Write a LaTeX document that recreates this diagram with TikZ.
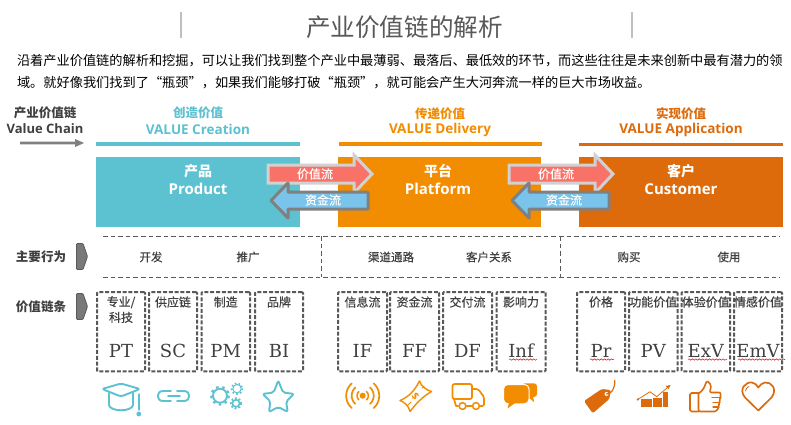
\documentclass[tikz,border=0pt]{standalone}
\usepackage{fontspec}
\setmainfont{Noto Sans CJK SC}
\newfontfamily\midface[FakeBold=0.3]{Noto Sans CJK SC}
\newfontfamily\latinface{Open Sans}
\newfontfamily\slabface{DejaVu Serif}
\usetikzlibrary{decorations.pathmorphing,calc}
\definecolor{teal}{HTML}{5CC1D1}
\definecolor{amber}{HTML}{F28C00}
\definecolor{rust}{HTML}{DD6B0C}
\definecolor{inkgray}{HTML}{404040}
\definecolor{dashgray}{HTML}{595959}
\definecolor{flowred}{HTML}{F87268}
\definecolor{flowblue}{HTML}{7AC4EC}
\newcommand{\px}[1]{\fontsize{#1}{#1}\selectfont}
\tikzset{
  x=1pt,y=-1pt,
  txt/.style={inner sep=0pt,outer sep=0pt,align=center},
  body/.style={txt,anchor=west,text=black,font=\px{13.2}},
  rowlabel/.style={txt,text=inkgray,font=\px{12.5}\bfseries},
  action/.style={txt,text=inkgray,font=\midface\px{11.5}},
  cellname/.style={txt,text=inkgray,font=\midface\px{12}},
  code/.style={txt,text=inkgray,font=\slabface\px{18}},
  secname/.style={txt,font=\px{12.5}\bfseries},
  secen/.style={txt,font=\latinface\bfseries\px{13.5}},
  stagecn/.style={txt,text=white,font=\px{14}\bfseries},
  stageen/.style={txt,text=white,font=\latinface\bfseries\px{15}},
  flowtext/.style={txt,text=white,font=\midface\px{12}},
  cellbox/.style={draw=dashgray,line width=2pt,dash pattern=on 4pt off 1.8pt,rounded corners=1pt},
  divider/.style={draw=dashgray,line width=.8pt,dash pattern=on 4.6pt off 3pt},
  chevron/.style={fill=gray!95!black,draw=dashgray,line width=.8pt,rounded corners=1pt},
  squiggle/.style={draw=red!85!black,line width=.5pt,decorate,decoration={snake,amplitude=.7pt,segment length=3.4pt}},
  icon/.style={line width=1.9pt,line cap=round,line join=round},
}
% one value-flow / cash-flow arrow pair, shifted horizontally by #1
\newcommand{\flowpair}[2]{%
  \begin{scope}[xshift=#1pt]
    \path[fill=flowred,draw=black!18,line width=3pt,line join=miter]
      (268,165) -- (354,165) -- (354,155) -- (372,174) -- (354,193) -- (354,183) -- (268,183) -- cycle;
    \path[fill=flowblue,draw=gray,line width=3pt,line join=round]
      (271,200.5) -- (288,183) -- (288,192) -- (368,192) -- (368,209) -- (288,209) -- (288,218) -- cycle;
    \node[flowtext] (valueflow#2) at (315,174) {价值流};
    \node[flowtext] (cashflow#2) at (323,200) {资金流};
  \end{scope}}
% a dashed cell with its name and its code
\newcommand{\cell}[5]{%
  \node[cellbox,minimum width=#3pt-2pt,minimum height=79.4pt,inner sep=0pt,anchor=north west] (box#1) at (#2,291) {};
  \node[cellname] (name#1) at ($(#2,302)+(#3/2,0)$) {#4};
  \node[code] (code#1) at ($(#2,351)+(#3/2,0)$) {#5};}
\begin{document}
\begin{tikzpicture}
\useasboundingbox (0,0) rectangle (791,424);
\fill[white] (0,0) rectangle (791,424);

% heading
\draw[black!25,line width=1.6pt] (181,12) -- (181,38);
\draw[black!25,line width=1.6pt] (632,12) -- (632,38);
\node[txt,text=dashgray,font=\px{24.6}] (title) at (404.5,27) {产业价值链的解析};
\node[body] (line1) at (17,61) {沿着产业价值链的解析和挖掘，可以让我们找到整个产业中最薄弱、最落后、最低效的环节，而这些往往是未来创新中最有潜力的领};
\node[body] (line2) at (17,83) {域。就好像我们找到了“瓶颈”，如果我们能够打破“瓶颈”，就可能会产生大河奔流一样的巨大市场收益。};

% chain label and its arrow
\node[secname,text=inkgray] (vccn) at (45,113) {产业价值链};
\node[secen,text=inkgray,font=\latinface\bfseries\px{13}] (vcen) at (45,129) {Value Chain};
\fill[gray] (20,141.6) -- (75,141.6) -- (75,139) -- (84,143) -- (75,147) -- (75,144.4) -- (20,144.4) -- cycle;

% the three stages
\fill[teal] (96,142) rectangle (300,146);
\fill[amber] (339,142) rectangle (542,146);
\fill[rust] (579,143) rectangle (783,146);
\node[secname,text=teal] (s1cn) at (198,113) {创造价值};
\node[secen,text=teal] (s1en) at (198,129) {VALUE Creation};
\node[secname,text=amber] (s2cn) at (440,114) {传递价值};
\node[secen,text=amber] (s2en) at (440,130) {VALUE Delivery};
\node[secname,text=rust] (s3cn) at (681,114) {实现价值};
\node[secen,text=rust] (s3en) at (681,130) {VALUE Application};

\fill[teal] (96,157) rectangle (300,227);
\fill[amber] (338,157) rectangle (541,227);
\fill[rust] (579,157) rectangle (783,227);
\node[stagecn] (p1cn) at (198,171) {产品};
\node[stageen] (p1en) at (198,189) {Product};
\node[stagecn] (p2cn) at (438,171) {平台};
\node[stageen] (p2en) at (438,189) {Platform};
\node[stagecn] (p3cn) at (681,171) {客户};
\node[stageen] (p3en) at (681,189) {Customer};

\flowpair{0}{a}
\flowpair{241}{b}

% main activities row
\draw[divider] (103,236) -- (780,236);
\draw[divider] (103,277) -- (780,277);
\draw[divider] (321,236) -- (321,277);
\draw[divider] (560,236) -- (560,277);
\node[rowlabel] (rowa) at (41,257) {主要行为};
\node[rowlabel] (rowb) at (41,307) {价值链条};
\draw[chevron] (76.5,243.5) -- (83,243.5) -- (87.5,256.5) -- (83,269.5) -- (76.5,269.5) -- cycle;
\draw[chevron] (76.5,293.5) -- (83,293.5) -- (87.5,306.5) -- (83,319.5) -- (76.5,319.5) -- cycle;
\node[action] (act1) at (151,257) {开发};
\node[action] (act2) at (248,257) {推广};
\node[action] (act3) at (391,257) {渠道通路};
\node[action] (act4) at (489,257) {客户关系};
\node[action] (act5) at (629,257) {购买};
\node[action] (act6) at (729,257) {使用};

% value chain cells
\cell{a}{96}{50}{}{PT}
\node[cellname,anchor=center] (nameaa) at (121,309.5) {专业/\\[2.5pt]科技};
\cell{b}{148}{50}{供应链}{SC}
\cell{c}{200.5}{50.5}{制造}{PM}
\cell{d}{254}{50}{品牌}{BI}
\cell{e}{337}{51}{信息流}{IF}
\cell{f}{389}{51}{资金流}{FF}
\cell{g}{442}{51}{交付流}{DF}
\cell{h}{495.5}{51}{影响力}{Inf}
\cell{i}{576}{50}{价格}{Pr}
\cell{j}{628}{50.5}{功能价值}{PV}
\cell{k}{680.5}{50.5}{体验价值}{ExV}
\cell{l}{733}{50}{情感价值}{EmV}
\path[squiggle] (509,359.5) -- (537,359.5);
\path[squiggle] (590,359.5) -- (614,359.5);
\path[squiggle] (688,359.5) -- (727,359.5);
\path[squiggle] (738,359.5) -- (785,359.5);

% icons: graduation cap
\begin{scope}[icon,draw=teal,fill=teal]
  \draw[rounded corners=2.5pt] (102,389) -- (121,383.5) -- (140,389) -- (121,396.5) -- cycle;
  \draw (109,393) -- (109,405) .. controls (110,412) and (132,412) .. (133,405) -- (133,393);
  \draw[line width=1.3pt] (139,394) -- (139,410);
  \fill (138.8,414) circle (2.4);
  % chain link
  \draw (171,391) -- (163,391) .. controls (156,391) and (156,401) .. (163,401) -- (171,401);
  \draw (177,391) -- (184,391) .. controls (191,391) and (191,401) .. (184,401) -- (177,401);
  \draw (168,396) -- (180,396);
  % gears
  \draw[line width=1.8pt] (220,395.7) circle (7);
  \draw[line width=2.2pt,line cap=butt,dash pattern=on 2.6pt off 3.6pt] (220,395.7) circle (8.8);
  \draw[line width=1pt] (237,388.6) circle (4.2);
  \draw[line width=1.6pt,line cap=butt,dash pattern=on 1.6pt off 2.3pt] (237,388.6) circle (5.6);
  \draw[line width=1.6pt] (236,403.3) circle (3.6);
  \draw[line width=1.8pt,line cap=butt,dash pattern=on 1.8pt off 2pt] (236,403.3) circle (5.2);
  % star
  \draw[shift={(278.3,399)},rounded corners=2pt] (270:18.5) -- (306:8) -- (342:16.5) -- (18:8.2) -- (54:16) -- (90:8) -- (126:16) -- (162:8.2) -- (198:16.5) -- (234:8) -- cycle;
\end{scope}

\begin{scope}[icon,draw=amber,fill=amber]
  % signal
  \fill (362.7,395.7) circle (3);
  \foreach \r/\w in {5.6/1.5,11/1.7,16.5/1.7} {
    \draw[line width=\w pt,shift={(362.7,395.7)}] plot[domain=-48:48,samples=13] ({\r*cos(\x)},{\r*sin(\x)});
    \draw[line width=\w pt,shift={(362.7,395.7)}] plot[domain=132:228,samples=13] ({\r*cos(\x)},{\r*sin(\x)});
  }
  % banknote
  \draw[line width=1.4pt] (419.5,381) .. controls (421,386) and (426,390) .. (431.5,391.5)
     .. controls (424,396) and (418,401) .. (410,411.5)
     .. controls (409,406) and (404,402) .. (400,400.5)
     .. controls (408,397) and (414,392) .. (419.5,381) -- cycle;
  \node[txt,text=amber,rotate=-50,font=\latinface\bfseries\px{10}] (dollar) at (415.5,396) {\$};
  \draw[line width=.9pt] (408,405) -- (411,402);
  \draw[line width=.9pt] (422,388) -- (424,386.5);
  % truck
  \draw[line width=1.7pt,rounded corners=2pt] (452.5,384) rectangle (472,399);
  \draw[line width=1.7pt,rounded corners=1.5pt] (472,389) -- (478,389) -- (484,397) -- (484,406) -- (480,406);
  \draw[line width=1.7pt] (472,406) -- (466.5,406);
  \draw[line width=1.7pt] (458,406) -- (456,406) -- (454,399);
  \draw[line width=1.5pt,fill=white] (462.5,406) circle (3.4);
  \draw[line width=1.5pt,fill=white] (476,406) circle (3.4);
  % speech bubbles
  \fill[rounded corners=3pt] (522,383.3) rectangle (537,397);
  \fill (527,396) -- (534,402) -- (533,396) -- cycle;
  \path[fill=amber,draw=white,line width=1pt,rounded corners=4.5pt] (503.5,384.5) rectangle (529,403.8);
  \fill (509,403) -- (507.5,408.5) -- (515,403) -- cycle;
\end{scope}

\begin{scope}[icon,draw=rust,fill=rust]
  % price tag
  \fill[rounded corners=1.5pt] (584,401) -- (601.7,389) -- (610.8,390) -- (609.3,399) -- (592.7,413.3) -- cycle;
  \fill[white] (606.5,394) circle (2);
  \draw[line width=1.2pt] (606.5,394) .. controls (612,394) and (615,388) .. (614.8,380.5);
  % growth chart
  \fill (641,399) rectangle (651.7,406.8);
  \fill (652.7,398) rectangle (662.3,406.8);
  \fill (663.3,392.3) rectangle (668.3,406.8);
  \draw[line width=.8pt] (638,399.3) -- (650,391.7) -- (656.7,396.7) -- (669,386.2);
  \fill (670.5,385) -- (665.5,386) -- (668.5,389) -- cycle;
  \fill (637.8,399.5) circle (1.3);
  % thumbs-up
  \draw[line width=1.6pt,rounded corners=1.5pt] (698.5,393) -- (690,393) -- (690,411.5) -- (698.5,411.5);
  \draw[line width=1.6pt,rounded corners=2pt] (698.5,393.5) -- (698.5,411.5) -- (717,411.5) -- (719,405) -- (721,392.5) -- (709.5,392.5) -- (711.5,385.5) -- (707,380.5) -- (703,390) -- (698.5,393.5);
  \draw[line width=1.2pt] (712,397.5) -- (721,397.5);
  \draw[line width=1.2pt] (713,402.5) -- (720,402.5);
  \draw[line width=1.2pt] (713,407) -- (719,407);
  % heart
  \draw[line width=1.7pt] (758.3,410.5) -- (745,397.5) .. controls (738,389) and (746,381.5) .. (752,382.5)
     .. controls (755,383) and (757,385) .. (758.3,387.5)
     .. controls (760,385) and (762,383) .. (765,382.5)
     .. controls (771,381.5) and (778,389) .. (771.5,397.5) -- cycle;
  \draw[line width=.8pt] (745.5,391) .. controls (746,388.5) and (747,387) .. (749,386.5);
\end{scope}
\end{tikzpicture}
\end{document}
